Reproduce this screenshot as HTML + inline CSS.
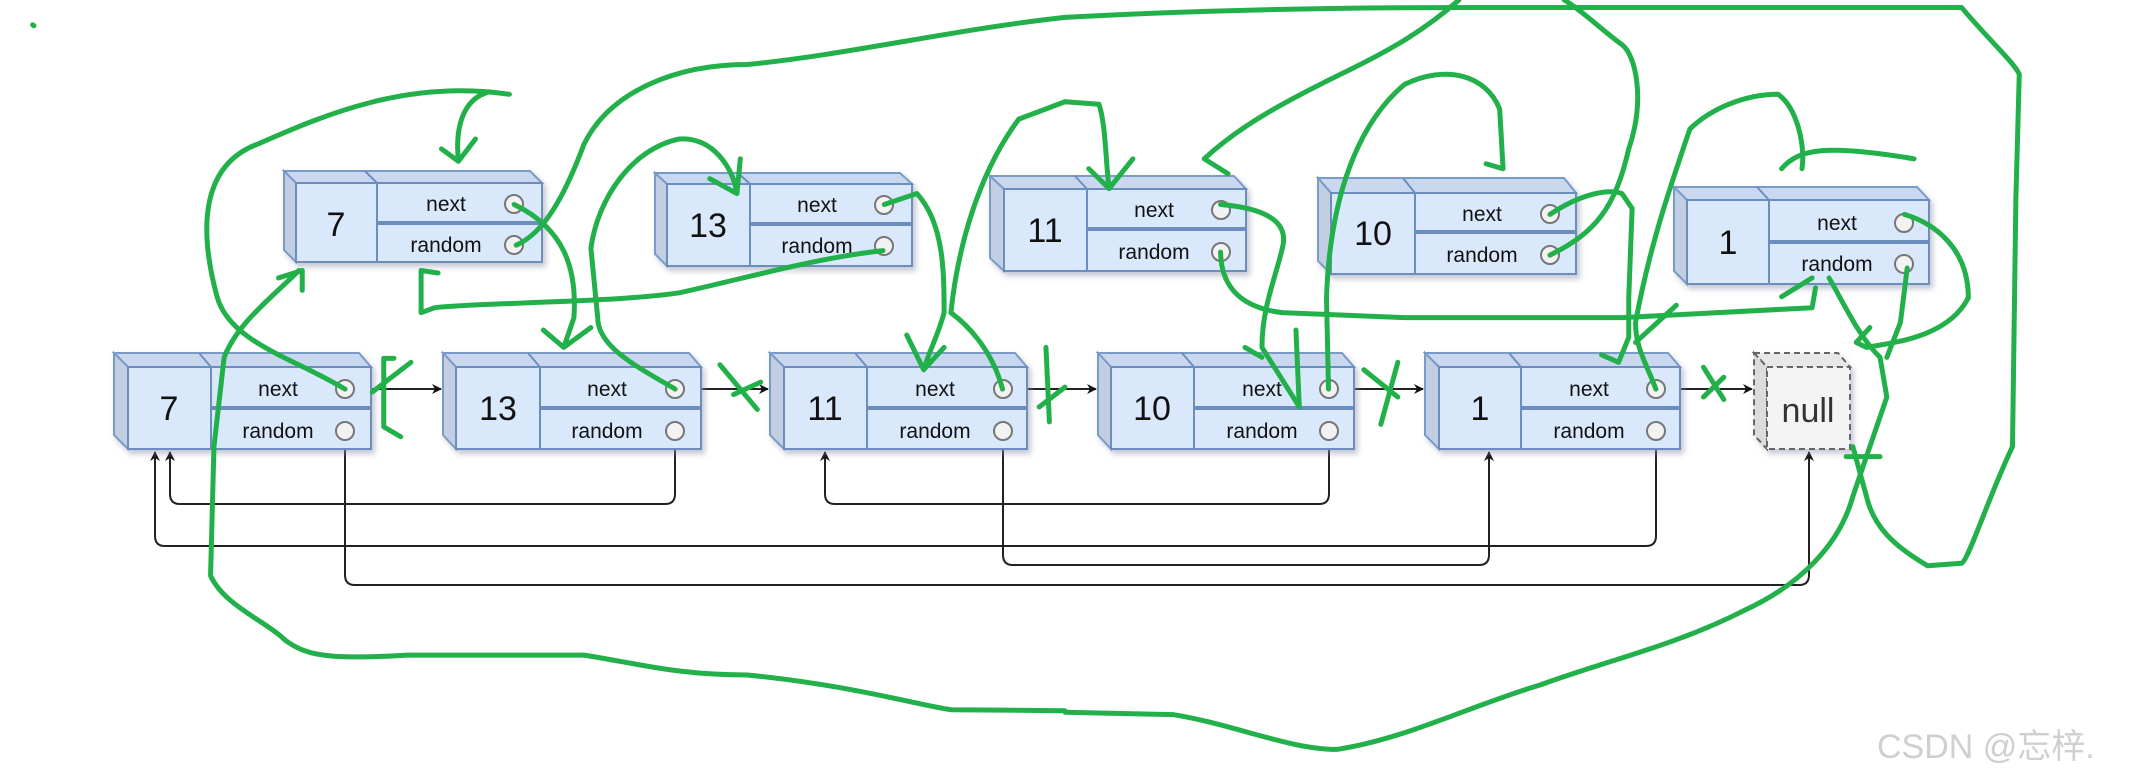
<!DOCTYPE html>
<html><head><meta charset="utf-8"><style>
html,body{margin:0;padding:0;background:#fff;}
svg{display:block;}
.v{font-family:"Liberation Sans",sans-serif;font-size:34px;fill:#111;text-anchor:middle;}
.f{font-family:"Liberation Sans",sans-serif;font-size:21px;fill:#111;text-anchor:middle;}
.g{fill:none;stroke:#22b04a;stroke-width:5;stroke-linecap:round;stroke-linejoin:round;}
.k{fill:none;stroke:#222;stroke-width:2;}
</style></head><body>
<svg width="2130" height="778" viewBox="0 0 2130 778" xmlns="http://www.w3.org/2000/svg">
<defs>
<marker id="ar" markerWidth="10" markerHeight="10" refX="9" refY="5" orient="auto" markerUnits="userSpaceOnUse"><path d="M0,0 L10,5 L0,10 L3,5 z" fill="#111"/></marker>
<filter id="sh"><feDropShadow dx="3" dy="4" stdDeviation="3" flood-color="#8890a8" flood-opacity="0.5"/></filter>
</defs>

<!-- bottom black connectors -->
<g class="k">
<path d="M345,431 V575 Q345,585 355,585 H1799 Q1809,585 1809,575 V452" marker-end="url(#ar)"/>
<path d="M675,431 V494 Q675,504 665,504 H180 Q170,504 170,494 V452" marker-end="url(#ar)"/>
<path d="M1003,431 V555 Q1003,565 1013,565 H1479 Q1489,565 1489,555 V452" marker-end="url(#ar)"/>
<path d="M1329,431 V494 Q1329,504 1319,504 H835 Q825,504 825,494 V452" marker-end="url(#ar)"/>
<path d="M1656,431 V536 Q1656,546 1646,546 H165 Q155,546 155,536 V452" marker-end="url(#ar)"/>
<path d="M354,389 H441" marker-end="url(#ar)"/>
<path d="M684,389 H768" marker-end="url(#ar)"/>
<path d="M1012,389 H1096" marker-end="url(#ar)"/>
<path d="M1338,389 H1423" marker-end="url(#ar)"/>
<path d="M1665,389 H1752" marker-end="url(#ar)"/>
<path d="M523,204 H542 M523,245 V262 M893,205 H912 M884,255 V266 M1230,210 H1246 M1559,214 H1576 M1550,264 V274 M1913,223 H1929 M1904,273 V284"/>
</g>

<!-- nodes -->
<g id="nodes">
<!-- template: X,T,R,B,V,M -->
<g filter="url(#sh)">
<!-- bottom 7 -->
<polygon points="114,353 359,353 371,367 128,367" fill="#c9d8ee" stroke="#7a9ac8" stroke-width="2"/>
<polygon points="114,353 128,367 128,449 114,435" fill="#c2cee2" stroke="#7a9ac8" stroke-width="2"/>
<rect x="128" y="367" width="243" height="82" fill="#dae8fc" stroke="#6c8ebf" stroke-width="2"/>
<!-- bottom 13 -->
<polygon points="443,353 689,353 701,367 456,367" fill="#c9d8ee" stroke="#7a9ac8" stroke-width="2"/>
<polygon points="443,353 456,367 456,449 443,435" fill="#c2cee2" stroke="#7a9ac8" stroke-width="2"/>
<rect x="456" y="367" width="245" height="82" fill="#dae8fc" stroke="#6c8ebf" stroke-width="2"/>
<!-- bottom 11 -->
<polygon points="770,353 1015,353 1027,367 784,367" fill="#c9d8ee" stroke="#7a9ac8" stroke-width="2"/>
<polygon points="770,353 784,367 784,449 770,435" fill="#c2cee2" stroke="#7a9ac8" stroke-width="2"/>
<rect x="784" y="367" width="243" height="82" fill="#dae8fc" stroke="#6c8ebf" stroke-width="2"/>
<!-- bottom 10 -->
<polygon points="1098,353 1342,353 1354,367 1111,367" fill="#c9d8ee" stroke="#7a9ac8" stroke-width="2"/>
<polygon points="1098,353 1111,367 1111,449 1098,435" fill="#c2cee2" stroke="#7a9ac8" stroke-width="2"/>
<rect x="1111" y="367" width="243" height="82" fill="#dae8fc" stroke="#6c8ebf" stroke-width="2"/>
<!-- bottom 1 -->
<polygon points="1425,353 1668,353 1680,367 1439,367" fill="#c9d8ee" stroke="#7a9ac8" stroke-width="2"/>
<polygon points="1425,353 1439,367 1439,449 1425,435" fill="#c2cee2" stroke="#7a9ac8" stroke-width="2"/>
<rect x="1439" y="367" width="241" height="82" fill="#dae8fc" stroke="#6c8ebf" stroke-width="2"/>
<!-- null -->
<polygon points="1754,353 1838,353 1850,367 1767,367" fill="#e8e8e8" stroke="#666" stroke-width="2" stroke-dasharray="6,4"/>
<polygon points="1754,353 1767,367 1767,449 1754,435" fill="#dcdcdc" stroke="#666" stroke-width="2" stroke-dasharray="6,4"/>
<rect x="1767" y="367" width="83" height="82" fill="#f4f4f4" stroke="#666" stroke-width="2" stroke-dasharray="6,4"/>

<!-- top 7 -->
<polygon points="284,171 530,171 542,183 296,183" fill="#c9d8ee" stroke="#7a9ac8" stroke-width="2"/>
<polygon points="284,171 296,183 296,262 284,250" fill="#c2cee2" stroke="#7a9ac8" stroke-width="2"/>
<rect x="296" y="183" width="246" height="79" fill="#dae8fc" stroke="#6c8ebf" stroke-width="2"/>
<!-- top 13 -->
<polygon points="655,173 900,173 912,184 667,184" fill="#c9d8ee" stroke="#7a9ac8" stroke-width="2"/>
<polygon points="655,173 667,184 667,266 655,254" fill="#c2cee2" stroke="#7a9ac8" stroke-width="2"/>
<rect x="667" y="184" width="245" height="82" fill="#dae8fc" stroke="#6c8ebf" stroke-width="2"/>
<!-- top 11 -->
<polygon points="990,176 1234,176 1246,189 1004,189" fill="#c9d8ee" stroke="#7a9ac8" stroke-width="2"/>
<polygon points="990,176 1004,189 1004,271 990,258" fill="#c2cee2" stroke="#7a9ac8" stroke-width="2"/>
<rect x="1004" y="189" width="242" height="82" fill="#dae8fc" stroke="#6c8ebf" stroke-width="2"/>
<!-- top 10 -->
<polygon points="1318,178 1564,178 1576,193 1331,193" fill="#c9d8ee" stroke="#7a9ac8" stroke-width="2"/>
<polygon points="1318,178 1331,193 1331,274 1318,261" fill="#c2cee2" stroke="#7a9ac8" stroke-width="2"/>
<rect x="1331" y="193" width="245" height="81" fill="#dae8fc" stroke="#6c8ebf" stroke-width="2"/>
<!-- top 1 -->
<polygon points="1674,187 1917,187 1929,200 1687,200" fill="#c9d8ee" stroke="#7a9ac8" stroke-width="2"/>
<polygon points="1674,187 1687,200 1687,284 1674,271" fill="#c2cee2" stroke="#7a9ac8" stroke-width="2"/>
<rect x="1687" y="200" width="242" height="84" fill="#dae8fc" stroke="#6c8ebf" stroke-width="2"/>
</g>

<g stroke="#6c8ebf" fill="none">
<path stroke-width="2" d="M211,367V449 M540,367V449 M867,367V449 M1194,367V449 M1521,367V449 M377,183V262 M750,184V266 M1087,189V271 M1415,193V274 M1769,200V284 M196,353l-0,0 M199,353l12,14 M528,353l12,14 M855,353l12,14 M1182,353l12,14 M1509,353l12,14 M365,171l12,12 M738,173l12,11 M1075,176l12,13 M1403,178l12,15 M1757,187l12,13"/>
<path stroke-width="4" d="M211,408H371 M540,408H701 M867,408H1027 M1194,408H1354 M1521,408H1680 M377,223H542 M750,224H912 M1087,229H1246 M1415,232H1576 M1769,242H1929"/>
</g>

<g fill="#f2f2f2" stroke="#777" stroke-width="2">
<circle cx="345" cy="389" r="9"/><circle cx="345" cy="431" r="9"/>
<circle cx="675" cy="389" r="9"/><circle cx="675" cy="431" r="9"/>
<circle cx="1003" cy="389" r="9"/><circle cx="1003" cy="431" r="9"/>
<circle cx="1329" cy="389" r="9"/><circle cx="1329" cy="431" r="9"/>
<circle cx="1656" cy="389" r="9"/><circle cx="1656" cy="431" r="9"/>
<circle cx="514" cy="204" r="9"/><circle cx="514" cy="245" r="9"/>
<circle cx="884" cy="205" r="9"/><circle cx="884" cy="246" r="9"/>
<circle cx="1221" cy="210" r="9"/><circle cx="1221" cy="252" r="9"/>
<circle cx="1550" cy="214" r="9"/><circle cx="1550" cy="255" r="9"/>
<circle cx="1904" cy="223" r="9"/><circle cx="1904" cy="264" r="9"/>
</g>

<g>
<text class="v" x="169" y="420">7</text><text class="v" x="498" y="420">13</text><text class="v" x="825" y="420">11</text><text class="v" x="1152" y="420">10</text><text class="v" x="1480" y="420">1</text>
<text class="v" x="1808" y="422" style="fill:#333">null</text>
<text class="v" x="336" y="236">7</text><text class="v" x="708" y="237">13</text><text class="v" x="1045" y="242">11</text><text class="v" x="1373" y="245">10</text><text class="v" x="1728" y="254">1</text>
<g class="f">
<text x="278" y="396">next</text><text x="278" y="438">random</text>
<text x="607" y="396">next</text><text x="607" y="438">random</text>
<text x="935" y="396">next</text><text x="935" y="438">random</text>
<text x="1262" y="396">next</text><text x="1262" y="438">random</text>
<text x="1589" y="396">next</text><text x="1589" y="438">random</text>
<text x="446" y="211">next</text><text x="446" y="252">random</text>
<text x="817" y="212">next</text><text x="817" y="253">random</text>
<text x="1154" y="217">next</text><text x="1154" y="259">random</text>
<text x="1482" y="221">next</text><text x="1482" y="262">random</text>
<text x="1837" y="230">next</text><text x="1837" y="271">random</text>
</g>
</g>
</g>

<!-- green strokes, left half (zoom coords) -->
<g transform="scale(0.6792,0.4963)">
<g class="g" vector-effect="non-scaling-stroke">
<path vector-effect="non-scaling-stroke" d="M508,784 C430,720 340,690 320,600 C290,450 300,330 380,290 C480,230 600,160 750,190"/>
<path vector-effect="non-scaling-stroke" d="M720,185 C680,200 670,260 675,325 M650,300 L675,325 L700,280"/>
<path vector-effect="non-scaling-stroke" d="M757,412 C830,460 850,540 845,640 L830,700 M800,665 L830,700 L870,660"/>
<path vector-effect="non-scaling-stroke" d="M760,494 C800,470 830,400 860,290 C900,180 1000,130 1100,130 C1250,110 1400,60 1568,35"/>
<path vector-effect="non-scaling-stroke" d="M445,545 L445,585 M445,545 L410,560 M440,545 C400,600 350,650 330,720 L315,900 L310,1160 C330,1220 390,1250 420,1290 C450,1320 480,1330 600,1320 L860,1320 C950,1340 1000,1360 1100,1360 C1250,1380 1350,1420 1400,1430 L1568,1432"/>
<path vector-effect="non-scaling-stroke" d="M1300,505 C1200,520 1100,560 1000,590 C900,610 700,610 640,620 L620,630 L620,545 L645,550"/>
<path vector-effect="non-scaling-stroke" d="M994,784 C940,740 880,700 880,640 L870,500 C880,400 930,300 1000,280 C1050,275 1080,340 1085,390 M1045,360 L1085,390 L1090,320"/>
<path vector-effect="non-scaling-stroke" d="M1302,412 L1350,390 C1390,450 1390,550 1390,630 C1380,680 1370,700 1360,745 M1335,675 L1360,745 L1390,700"/>
<path vector-effect="non-scaling-stroke" d="M1476,784 C1460,700 1420,650 1400,630 C1410,500 1440,350 1500,240 L1568,205"/>
<path vector-effect="non-scaling-stroke" d="M580,722 L565,722 L565,860 L590,880 M548,790 L605,730"/>
<path vector-effect="non-scaling-stroke" d="M1060,735 L1115,825 M1080,795 L1120,770"/>
<path vector-effect="non-scaling-stroke" d="M1540,700 L1545,850 M1530,820 L1568,780"/>
<path vector-effect="non-scaling-stroke" d="M48,50 L50,52"/>
</g>
</g>

<!-- green strokes, right half -->
<g transform="translate(1065,0) scale(0.6792,0.4963)">
<g class="g">
<path vector-effect="non-scaling-stroke" d="M0,35 C200,20 400,15 600,15 L1320,15 C1360,80 1400,130 1405,150 L1400,400 L1395,900 C1360,1000 1330,1130 1320,1135 L1270,1140 C1220,1100 1190,1060 1180,1000 L1160,900 M1150,920 L1200,920"/>
<path vector-effect="non-scaling-stroke" d="M0,205 L50,210 C60,250 60,330 65,380 M35,340 L65,380 L100,320"/>
<path vector-effect="non-scaling-stroke" d="M229,412 C300,420 330,450 320,500 C310,560 290,620 290,700 L345,820 M265,700 L290,720"/>
<path vector-effect="non-scaling-stroke" d="M229,508 C230,580 260,620 320,630 L500,640 L820,640 L1100,620 L1105,580 M1055,598 L1100,560"/>
<path vector-effect="non-scaling-stroke" d="M240,350 L205,320 C260,250 330,200 420,140 C480,100 530,60 580,0"/>
<path vector-effect="non-scaling-stroke" d="M388,784 L385,600 C390,400 430,250 500,170 C560,130 620,150 640,220 L645,340 L620,330"/>
<path vector-effect="non-scaling-stroke" d="M340,665 L345,820"/>
<path vector-effect="non-scaling-stroke" d="M714,432 C760,390 800,380 820,390 L835,420 L830,600 L830,680 L815,730 L790,715"/>
<path vector-effect="non-scaling-stroke" d="M714,514 C780,470 810,420 830,300 C855,200 840,110 820,90 C790,60 760,20 735,0"/>
<path vector-effect="non-scaling-stroke" d="M870,784 C855,730 840,700 840,650 C860,500 890,380 920,260 C950,220 1000,190 1050,190 C1080,220 1090,300 1085,340 M1055,340 C1080,300 1120,290 1250,320"/>
<path vector-effect="non-scaling-stroke" d="M1236,432 C1280,450 1330,500 1330,600 C1300,680 1220,690 1180,700 L1165,690 L1185,660"/>
<path vector-effect="non-scaling-stroke" d="M1125,560 C1150,620 1170,680 1200,720 L1210,800 L1180,920 L1160,1000 C1140,1100 1080,1180 1000,1230 C900,1300 800,1330 700,1380 C600,1420 500,1490 400,1510 C330,1510 250,1460 160,1440 L0,1435"/>
<path vector-effect="non-scaling-stroke" d="M1240,540 L1230,650 L1210,720"/>
<path vector-effect="non-scaling-stroke" d="M440,745 L490,800 M490,730 L465,855"/>
<path vector-effect="non-scaling-stroke" d="M940,740 L970,805 M940,800 L970,760"/>
<path vector-effect="non-scaling-stroke" d="M900,615 L840,690"/>
</g>
</g>

<text x="1877" y="758" style="font-family:'Liberation Sans','Noto Sans CJK SC',sans-serif;font-size:34px;fill:#cfcfcf;">CSDN @忘梓.</text>
</svg>
</body></html>
